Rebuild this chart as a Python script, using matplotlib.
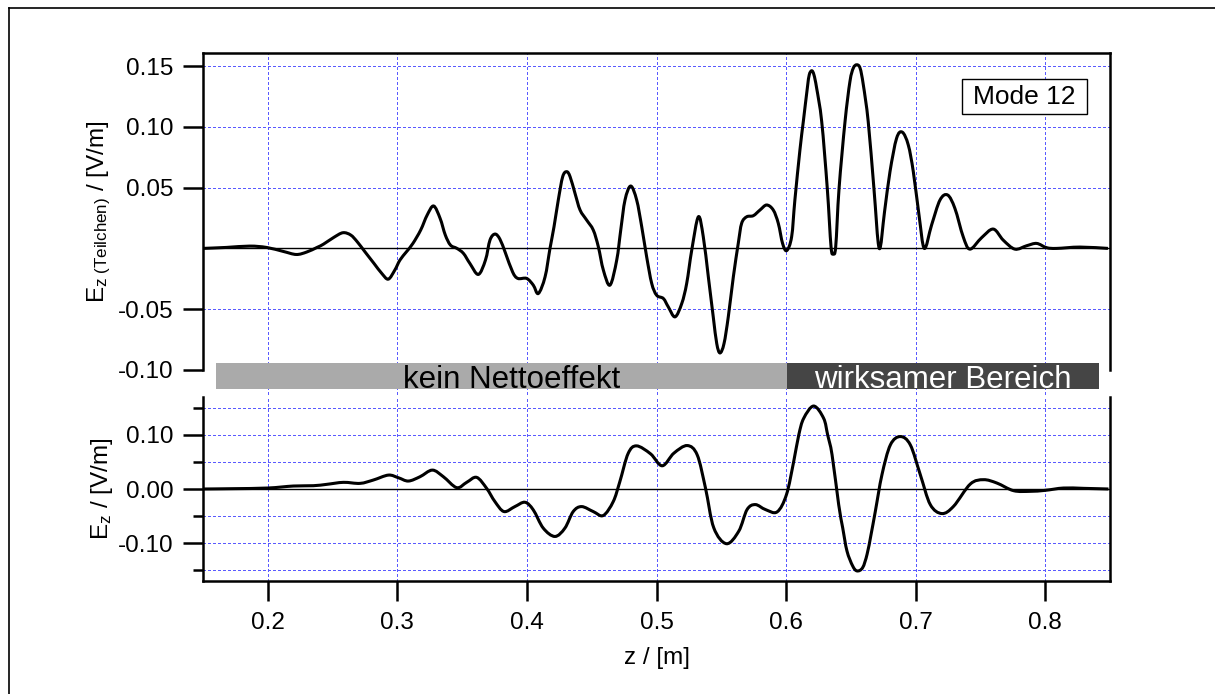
import matplotlib
matplotlib.use("Agg")
import matplotlib.pyplot as plt
from matplotlib.lines import Line2D
from matplotlib.patches import Rectangle, PathPatch
from matplotlib.path import Path
from matplotlib.ticker import FuncFormatter

plt.rcParams['font.family'] = ['Liberation Sans', 'DejaVu Sans']
plt.rcParams['mathtext.fontset'] = 'custom'
plt.rcParams['mathtext.rm'] = 'Liberation Sans'
plt.rcParams['mathtext.it'] = 'Liberation Sans:italic'
plt.rcParams['mathtext.bf'] = 'Liberation Sans:bold'
plt.rcParams['axes.unicode_minus'] = False

# field seen by the particle (upper panel)
z_top = [0.150, 0.168, 0.186, 0.199, 0.212, 0.222, 0.230, 0.238, 0.243, 0.251,
         0.258, 0.264, 0.269, 0.275, 0.282, 0.288, 0.293, 0.298, 0.302, 0.307,
         0.312, 0.318, 0.323, 0.328, 0.333, 0.337, 0.341, 0.346, 0.351, 0.356,
         0.3625, 0.368, 0.3715, 0.3754, 0.3792, 0.3835, 0.3890, 0.3930, 0.3998, 0.4049,
         0.4088, 0.4140, 0.4178, 0.4209, 0.4242, 0.4276, 0.4307, 0.4333, 0.4371, 0.4410,
         0.4461, 0.4512, 0.4551, 0.4590, 0.4641, 0.4693, 0.4724, 0.4757, 0.4801, 0.4847,
         0.4886, 0.4924, 0.4963, 0.5001, 0.5053, 0.5091, 0.5143, 0.5195, 0.5233, 0.5272,
         0.5323, 0.5361, 0.5400, 0.5438, 0.5465, 0.5490, 0.5521, 0.5554, 0.5593, 0.5631,
         0.5657, 0.5696, 0.5747, 0.5799, 0.5850, 0.5901, 0.5940, 0.5973, 0.6005, 0.6043,
         0.6068, 0.6107, 0.6133, 0.6164, 0.6179, 0.6198, 0.6215, 0.6236, 0.6275, 0.6318,
         0.6347, 0.6364, 0.6383, 0.6409, 0.6455, 0.6493, 0.6519, 0.6545, 0.6571, 0.6596,
         0.6634, 0.6678, 0.6719, 0.6760, 0.6802, 0.6853, 0.6897, 0.6943, 0.6982, 0.7026,
         0.7067, 0.7123, 0.7188, 0.7247, 0.7303, 0.7367, 0.7419, 0.7509, 0.7599, 0.7676,
         0.7766, 0.7857, 0.7934, 0.8011, 0.8088, 0.8268, 0.8484]
ez_top = [0.0000, 0.0008, 0.0019, 0.0008, -0.0025, -0.0050, -0.0030, 0.0008, 0.0035, 0.0091,
          0.0129, 0.0110, 0.0055, -0.0028, -0.0124, -0.0206, -0.0253, -0.0179, -0.0096, -0.0028,
          0.0041, 0.0151, 0.0274, 0.0349, 0.0247, 0.0110, 0.0027, 0.0000, -0.0041, -0.0124,
          -0.0214, -0.0096, 0.0069, 0.0118, 0.0075, -0.0040, -0.0195, -0.0247, -0.0247, -0.0302,
          -0.0371, -0.0234, 0.0000, 0.0178, 0.0398, 0.0590, 0.0631, 0.0590, 0.0453, 0.0316,
          0.0233, 0.0151, 0.0014, -0.0179, -0.0302, -0.0096, 0.0151, 0.0398, 0.0513, 0.0398,
          0.0178, -0.0069, -0.0288, -0.0385, -0.0412, -0.0481, -0.0563, -0.0453, -0.0288, -0.0014,
          0.0260, 0.0096, -0.0234, -0.0563, -0.0783, -0.0860, -0.0783, -0.0563, -0.0234, 0.0041,
          0.0206, 0.0260, 0.0269, 0.0316, 0.0357, 0.0316, 0.0206, 0.0041, -0.0018, 0.0096,
          0.0398, 0.0810, 0.1043, 0.1318, 0.1428, 0.1461, 0.1428, 0.1318, 0.1043, 0.0494,
          0.0014, -0.0041, 0.0014, 0.0494, 0.1043, 0.1373, 0.1483, 0.1510, 0.1483, 0.1346,
          0.1043, 0.0494, 0.0000, 0.0302, 0.0631, 0.0906, 0.0956, 0.0851, 0.0631, 0.0274,
          0.0000, 0.0192, 0.0398, 0.0439, 0.0329, 0.0096, -0.0006, 0.0088, 0.0159, 0.0068,
          -0.0006, 0.0022, 0.0041, 0.0006, 0.0000, 0.0011, 0.0000]

# field on the axis (lower panel)
z_bot = [0.1504, 0.1735, 0.2000, 0.2198, 0.2352, 0.2455, 0.2584, 0.2712, 0.2815, 0.2931,
         0.3008, 0.3085, 0.3175, 0.3270, 0.3355, 0.3458, 0.3535, 0.3612, 0.3689, 0.3753,
         0.3823, 0.3907, 0.3985, 0.4049, 0.4126, 0.4216, 0.4293, 0.4357, 0.4422, 0.4512,
         0.4589, 0.4666, 0.4717, 0.4781, 0.4846, 0.4954, 0.5044, 0.5134, 0.5237, 0.5314,
         0.5378, 0.5442, 0.5540, 0.5635, 0.5699, 0.5763, 0.5841, 0.5931, 0.6003, 0.6059,
         0.6098, 0.6136, 0.6213, 0.6290, 0.6321, 0.6355, 0.6406, 0.6437, 0.6470, 0.6514,
         0.6548, 0.6591, 0.6625, 0.6656, 0.6689, 0.6740, 0.6805, 0.6882, 0.6959, 0.7036,
         0.7113, 0.7203, 0.7293, 0.7422, 0.7524, 0.7627, 0.7756, 0.7884, 0.8000, 0.8141,
         0.8296, 0.8488]
ez_bot = [0.0000, 0.0006, 0.0018, 0.0055, 0.0061, 0.0086, 0.0123, 0.0104, 0.0166, 0.0257,
          0.0208, 0.0147, 0.0227, 0.0349, 0.0227, 0.0025, 0.0123, 0.0215, 0.0012, -0.0233,
          -0.0417, -0.0325, -0.0245, -0.0386, -0.0723, -0.0877, -0.0723, -0.0417, -0.0325, -0.0417,
          -0.0490, -0.0233, 0.0135, 0.0656, 0.0797, 0.0650, 0.0429, 0.0662, 0.0803, 0.0631,
          0.0018, -0.0717, -0.1011, -0.0779, -0.0380, -0.0288, -0.0380, -0.0423, -0.0104, 0.0509,
          0.0999, 0.1306, 0.1533, 0.1306, 0.0999, 0.0631, -0.0288, -0.0717, -0.1146, -0.1422,
          -0.1514, -0.1453, -0.1208, -0.0840, -0.0411, 0.0264, 0.0815, 0.0969, 0.0815, 0.0264,
          -0.0288, -0.0454, -0.0319, 0.0092, 0.0172, 0.0110, -0.0031, -0.0043, -0.0025, 0.0018,
          0.0012, 0.0000]

x_ticks = [0.2, 0.3, 0.4, 0.5, 0.6, 0.7, 0.8]
top_yticks = [-0.10, -0.05, 0.05, 0.10, 0.15]
bot_yticks = [-0.10, 0.00, 0.10]
bot_yminor = [-0.15, -0.05, 0.05, 0.15]

region_edges = [(0.1603, 0.6007), (0.6007, 0.8414)]
region_names = ["kein Nettoeffekt", "wirksamer Bereich"]
mode_label = "Mode 12"


def smooth_path(xs, ys):
    # draw the read points as one smooth curve (Catmull-Rom as Bezier segments)
    pts = list(zip(xs, ys))
    n = len(pts)
    verts = [pts[0]]
    codes = [Path.MOVETO]
    for i in range(n - 1):
        p0 = pts[i - 1] if i > 0 else pts[i]
        p1 = pts[i]
        p2 = pts[i + 1]
        p3 = pts[i + 2] if i + 2 < n else pts[i + 1]
        c1 = (p1[0] + (p2[0] - p0[0]) / 6, p1[1] + (p2[1] - p0[1]) / 6)
        c2 = (p2[0] - (p3[0] - p1[0]) / 6, p2[1] - (p3[1] - p1[1]) / 6)
        verts += [c1, c2, p2]
        codes += [Path.CURVE4] * 3
    return Path(verts, codes)


W, H = 1215, 694
fig = plt.figure(figsize=(W / 100, H / 100), dpi=100)
ax1 = fig.add_axes([203 / W, 1 - 370 / H, 907 / W, 317 / H])
ax2 = fig.add_axes([203 / W, 1 - 581 / H, 907 / W, 184 / H])

grid_kw = dict(color='#5a5aff', linestyle=(0, (2.5, 2.5)), linewidth=0.8, zorder=1,
               snap=True, antialiased=False)
fs = 17.5
fmt2 = FuncFormatter(lambda v, p: '%.2f' % v)

# ---- upper panel
ax1.set_xlim(0.15, 0.85)
ax1.set_ylim(-0.10, 0.1607)
ax1.spines['bottom'].set_visible(False)
for s in ['top', 'left', 'right']:
    ax1.spines[s].set_linewidth(1.8)
ax1.set_xticks(x_ticks)
ax1.tick_params(axis='x', length=0, labelbottom=False)
ax1.set_yticks(top_yticks)
ax1.yaxis.set_major_formatter(fmt2)
ax1.tick_params(axis='y', direction='out', length=14.4, width=1.8, pad=7, labelsize=fs)
for xv in x_ticks:
    ax1.axvline(xv, ymin=-0.09, ymax=1, clip_on=False, **grid_kw)
for yv in top_yticks:
    ax1.axhline(yv, **grid_kw)
ax1.axhline(0, color='black', lw=1.0, zorder=2)
ax1.add_patch(PathPatch(smooth_path(z_top, ez_top), fill=False, ec='black', lw=2.2,
                        joinstyle='round', zorder=3))
ax1.set_ylabel(r'E$_{\mathrm{z\ (Teilchen)}}$ / [V/m]', fontsize=fs)
ax1.yaxis.set_label_coords(-0.099, 0.5)

# regions bar under the upper panel
bar_colors = ['#aaaaaa', '#454545']
text_colors = ['black', 'white']
text_shift = [0.008, 0.0]
for (a, b), name, bc, tc, dx in zip(region_edges, region_names, bar_colors, text_colors, text_shift):
    ax1.axvspan(a, b, ymin=-0.061, ymax=0.021, color=bc, lw=0, clip_on=False, zorder=4)
    ax1.text((a + b) / 2 + dx, -0.1148, name, ha='center', va='baseline',
             fontsize=22.5, color=tc, clip_on=False, zorder=5)

# mode label box
ax1.add_patch(Rectangle((0.8372, 0.8066), 0.1375, 0.1123, transform=ax1.transAxes,
                        facecolor='white', edgecolor='black', lw=1.0, zorder=4))
ax1.text(0.906, 0.8382, mode_label, transform=ax1.transAxes, ha='center',
         va='baseline', fontsize=19, zorder=5)

# ---- lower panel
ax2.set_xlim(0.15, 0.85)
ax2.set_ylim(-0.17, 0.17)
ax2.spines['top'].set_visible(False)
for s in ['bottom', 'left', 'right']:
    ax2.spines[s].set_linewidth(1.8)
ax2.set_xticks(x_ticks)
ax2.xaxis.set_major_formatter(FuncFormatter(lambda v, p: '%.1f' % v))
ax2.tick_params(axis='x', direction='out', length=14.4, width=1.8, pad=8, labelsize=fs)
ax2.set_yticks(bot_yticks)
ax2.set_yticks(bot_yminor, minor=True)
ax2.yaxis.set_major_formatter(fmt2)
ax2.tick_params(axis='y', which='major', direction='out', length=14.4, width=1.8, pad=7, labelsize=fs)
ax2.tick_params(axis='y', which='minor', direction='out', length=7.2, width=1.8)
for xv in x_ticks:
    ax2.axvline(xv, **grid_kw)
for yv in bot_yticks + bot_yminor:
    ax2.axhline(yv, **grid_kw)
ax2.axhline(0, color='black', lw=1.0, zorder=2)
ax2.add_patch(PathPatch(smooth_path(z_bot, ez_bot), fill=False, ec='black', lw=2.2,
                        joinstyle='round', zorder=3))
ax2.set_ylabel(r'E$_{\mathrm{z}}$ / [V/m]', fontsize=fs)
ax2.yaxis.set_label_coords(-0.097, 0.5)
ax2.set_xlabel('z / [m]', fontsize=fs)
ax2.xaxis.set_label_coords(0.5, -0.36)

# outer frame (cut at right and bottom)
fig.add_artist(Line2D([9 / W, 9 / W], [0, 1 - 8 / H], color='black', lw=1.2))
fig.add_artist(Line2D([9 / W, 1], [1 - 8 / H, 1 - 8 / H], color='black', lw=1.2))

fig.savefig('out.png', dpi=100)
